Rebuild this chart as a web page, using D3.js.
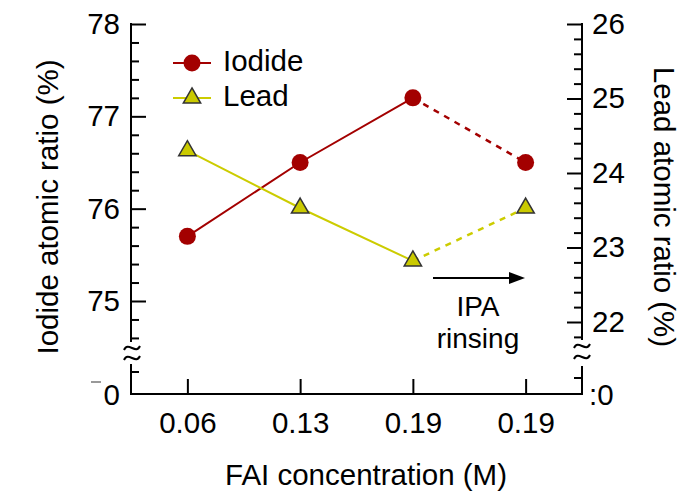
<!DOCTYPE html>
<html>
<head>
<meta charset="utf-8">
<script src="https://cdn.jsdelivr.net/npm/d3@7"></script>
<style>
  html, body { margin: 0; padding: 0; background: #fff; }
  svg text { font-family: "Liberation Sans", Arial, sans-serif; fill: #000; }
</style>
</head>
<body>
<svg id="chart" width="692" height="499"></svg>
<script>
const categories = ["0.06", "0.13", "0.19", "0.19"];
const iodide = [75.7, 76.5, 77.2, 76.5];
const lead = [24.3, 23.53, 22.82, 23.53];
const leftTicks = [75, 76, 77, 78];
const rightTicks = [22, 23, 24, 25, 26];
const seriesNames = ["Iodide", "Lead"];

const svg = d3.select("#chart");
const X0 = 131, X1 = 582, YB = 394;
const FS = 29.5;
const red = "#a30000", yel = "#caca00", yelLine = "#cccc00";

const x = d3.scalePoint().domain(d3.range(categories.length)).range([X0, X1]).padding(0.5);
const yL = d3.scaleLinear().domain([75, 78]).range([301, 24]);
const yR = d3.scaleLinear().domain([22, 26]).range([322, 24]);

const leftMinor = d3.range(74.6, 78.0001, 0.2).map(v => +v.toFixed(1)).filter(v => !leftTicks.includes(v));
const rightMinor = d3.range(21.8, 26.0001, 0.2).map(v => +v.toFixed(1)).filter(v => !rightTicks.includes(v));

const FF = "Liberation Sans, Arial, sans-serif";

// Left axis
const gL = svg.append("g").attr("transform", `translate(${X0},0)`);
gL.call(d3.axisLeft(yL).tickValues(leftTicks).tickFormat(d3.format("d")).tickSizeInner(-15).tickSizeOuter(0).tickPadding(11));
gL.select(".domain").remove();
gL.selectAll(".tick line").attr("stroke", "#000").attr("stroke-width", 2);
gL.selectAll(".tick text").style("font-size", FS + "px").style("font-family", FF);
const gLm = svg.append("g").attr("transform", `translate(${X0},0)`);
gLm.call(d3.axisLeft(yL).tickValues(leftMinor).tickFormat("").tickSizeInner(-8).tickSizeOuter(0));
gLm.select(".domain").remove();
gLm.selectAll(".tick line").attr("stroke", "#000").attr("stroke-width", 2);

// Right axis
const gR = svg.append("g").attr("transform", `translate(${X1},0)`);
gR.call(d3.axisRight(yR).tickValues(rightTicks).tickFormat(d3.format("d")).tickSizeInner(-15).tickSizeOuter(0).tickPadding(10));
gR.select(".domain").remove();
gR.selectAll(".tick line").attr("stroke", "#000").attr("stroke-width", 2);
gR.selectAll(".tick text").style("font-size", FS + "px").style("font-family", FF);
const gRm = svg.append("g").attr("transform", `translate(${X1},0)`);
gRm.call(d3.axisRight(yR).tickValues(rightMinor).tickFormat("").tickSizeInner(-8).tickSizeOuter(0));
gRm.select(".domain").remove();
gRm.selectAll(".tick line").attr("stroke", "#000").attr("stroke-width", 2);

// Axis lines with breaks
const axisLines = svg.append("g").attr("stroke", "#000").attr("stroke-width", 2).attr("fill", "none");
axisLines.append("line").attr("x1", X0).attr("x2", X0).attr("y1", yL(78) - 1).attr("y2", 342);
axisLines.append("line").attr("x1", X0).attr("x2", X0).attr("y1", 364).attr("y2", YB + 1);
axisLines.append("line").attr("x1", X0).attr("x2", X0 + 8).attr("y1", 372).attr("y2", 372);
axisLines.append("line").attr("x1", X1).attr("x2", X1).attr("y1", yR(26) - 1).attr("y2", 340);
axisLines.append("line").attr("x1", X1).attr("x2", X1).attr("y1", 366).attr("y2", YB + 1);
axisLines.append("line").attr("x1", X1).attr("x2", X1 - 8).attr("y1", 378).attr("y2", 378);
axisLines.append("line").attr("x1", X0 - 1).attr("x2", X1 + 1).attr("y1", YB).attr("y2", YB);
// stray dash near left zero
svg.append("line").attr("x1", 91).attr("x2", 101).attr("y1", 382).attr("y2", 382).attr("stroke", "#555").attr("stroke-width", 1.2);

// break squiggles
function squiggle(cx, cy) {
  const p = d3.path();
  p.moveTo(cx - 8, cy + 2);
  p.bezierCurveTo(cx - 4, cy - 7, cx + 4, cy + 7, cx + 8, cy - 2);
  return p.toString();
}
[[X0 + 1, 348], [X0 + 1, 358], [X1, 346], [X1, 357]].forEach(([cx, cy]) => {
  svg.append("path").attr("d", squiggle(cx, cy)).attr("stroke", "#000").attr("stroke-width", 2).attr("fill", "none");
});

// zero labels
svg.append("text").attr("x", 120).attr("y", 397).attr("text-anchor", "end").attr("dominant-baseline", "middle").style("font-size", FS + "px").text("0");
svg.append("text").attr("x", 589).attr("y", 397).attr("text-anchor", "start").attr("dominant-baseline", "middle").style("font-size", FS + "px").text(":0");

// x axis
const gX = svg.append("g").attr("transform", `translate(0,${YB})`);
gX.call(d3.axisBottom(x).tickFormat(i => categories[i]).tickSizeInner(-15).tickSizeOuter(0).tickPadding(18));
gX.select(".domain").remove();
gX.selectAll(".tick line").attr("stroke", "#000").attr("stroke-width", 2);
gX.selectAll(".tick text").style("font-size", FS + "px").style("font-family", FF);

// axis titles
svg.append("text").attr("transform", "translate(50,207) rotate(-90)").attr("text-anchor", "middle").attr("dominant-baseline", "middle").style("font-size", FS + "px").text("Iodide atomic ratio (%)");
svg.append("text").attr("transform", "translate(662,207) rotate(90)").attr("text-anchor", "middle").attr("dominant-baseline", "middle").style("font-size", FS + "px").text("Lead atomic ratio (%)");
svg.append("text").attr("x", 366).attr("y", 477).attr("text-anchor", "middle").attr("dominant-baseline", "middle").style("font-size", FS + "px").text("FAI concentration (M)");

// lines
const iSolid = iodide.map((d, i) => [i, d]).slice(0, 3);
const iDash = iodide.map((d, i) => [i, d]).slice(2);
const pSolid = lead.map((d, i) => [i, d]).slice(0, 3);
const pDash = lead.map((d, i) => [i, d]).slice(2);
const lI = d3.line().x(d => x(d[0])).y(d => yL(d[1]));
const lP = d3.line().x(d => x(d[0])).y(d => yR(d[1]));
svg.append("path").attr("d", lI(iSolid)).attr("stroke", red).attr("stroke-width", 2).attr("fill", "none");
svg.append("path").attr("d", lI(iDash)).attr("stroke", red).attr("stroke-width", 2.5).attr("stroke-dasharray", "6,6").attr("fill", "none");
svg.append("path").attr("d", lP(pSolid)).attr("stroke", yelLine).attr("stroke-width", 2).attr("fill", "none");
svg.append("path").attr("d", lP(pDash)).attr("stroke", yelLine).attr("stroke-width", 2.5).attr("stroke-dasharray", "6,6").attr("fill", "none");

// markers
const tri = d3.symbol().type(d3.symbolTriangle).size(130);
svg.selectAll(".pt-i").data(iodide).join("circle").attr("class", "pt-i")
  .attr("cx", (d, i) => x(i)).attr("cy", d => yL(d)).attr("r", 8.5).attr("fill", red);
svg.selectAll(".pt-p").data(lead).join("path").attr("class", "pt-p")
  .attr("d", tri).attr("transform", (d, i) => `translate(${x(i)},${yR(d)})`)
  .attr("fill", yel).attr("stroke", "#333").attr("stroke-width", 1.5);

// legend
const leg = svg.append("g");
const legY = [63, 98];
seriesNames.forEach((name, k) => {
  const g = leg.append("g").attr("transform", `translate(0,${legY[k]})`);
  g.append("line").attr("x1", 173).attr("x2", 211).attr("y1", 0).attr("y2", 0).attr("stroke", k === 0 ? red : yelLine).attr("stroke-width", 2);
  if (k === 0) g.append("circle").attr("cx", 192).attr("cy", 0).attr("r", 8.5).attr("fill", red);
  else g.append("path").attr("d", tri).attr("transform", "translate(192,0)").attr("fill", yel).attr("stroke", "#333").attr("stroke-width", 1.5);
  g.append("text").attr("x", 223).attr("y", 0).attr("dominant-baseline", "middle").style("font-size", FS + "px").text(name);
});

// IPA rinsing annotation
const arrowY = 278;
svg.append("line").attr("x1", 433).attr("x2", 512).attr("y1", arrowY).attr("y2", arrowY).attr("stroke", "#000").attr("stroke-width", 2.2);
svg.append("path").attr("d", `M525,${arrowY} L509,${arrowY - 6} L509,${arrowY + 6} Z`).attr("fill", "#000");
svg.append("text").attr("x", 478).attr("y", 316).attr("text-anchor", "middle").style("font-size", "28px").text("IPA");
svg.append("text").attr("x", 478).attr("y", 348).attr("text-anchor", "middle").style("font-size", "28px").text("rinsing");
</script>
</body>
</html>
